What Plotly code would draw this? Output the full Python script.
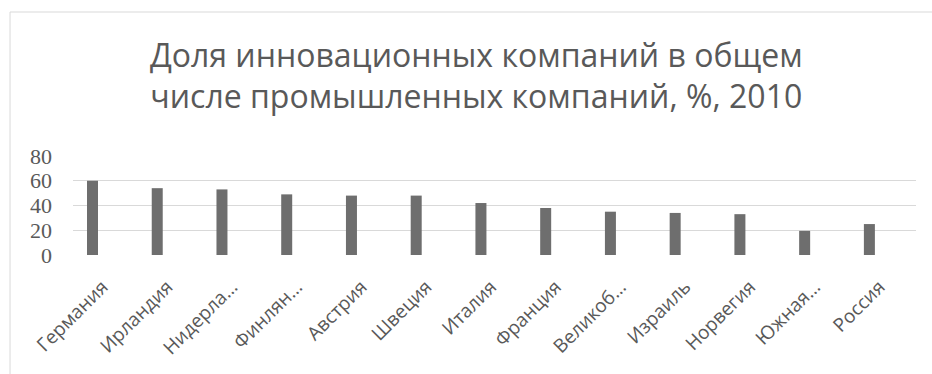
import plotly.graph_objects as go

categories = ["Германия", "Ирландия", "Нидерланды", "Финляндия", "Австрия", "Швеция", "Италия",
              "Франция", "Великобритания", "Израиль", "Норвегия", "Южная Корея", "Россия"]
tick_labels = ["Германия", "Ирландия", "Нидерла…", "Финлян…", "Австрия", "Швеция", "Италия",
               "Франция", "Великоб…", "Израиль", "Норвегия", "Южная…", "Россия"]
values = [60, 54, 53, 49, 48, 48, 42, 38, 35, 34, 33, 19.5, 25]
y_ticks = [0, 20, 40, 60, 80]

title_text = "Доля инновационных компаний в общем<br>числе промышленных компаний, %, 2010"

x_idx = list(range(len(categories)))

fig = go.Figure()
fig.add_trace(go.Bar(
    x=x_idx, y=values, width=0.17,
    marker=dict(color="#6e6e6e", line=dict(width=0)),
    hovertext=categories,
))

fig.update_layout(
    width=932, height=374,
    margin=dict(l=73, r=16, t=156, b=119),
    paper_bgcolor="white", plot_bgcolor="white",
    showlegend=False,
    title=dict(text=title_text, x=0.511, xanchor="center", y=0.822, yanchor="top",
               xref="container", yref="container",
               font=dict(family="Open Sans", size=32, color="#595959")),
    xaxis=dict(range=[-0.301, 12.72], tickmode="array", tickvals=x_idx, ticktext=tick_labels,
               tickangle=-45, showgrid=False, zeroline=False, showline=False, ticks="",
               ticklabelstandoff=16, ticklabelshift=10,
               tickfont=dict(family="Open Sans", size=19, color="#595959")),
    yaxis=dict(range=[0, 80], tickmode="array", tickvals=y_ticks, showgrid=True,
               gridcolor="#d9d9d9", gridwidth=1, zeroline=False, showline=False, ticks="",
               ticklabelstandoff=20,
               tickfont=dict(family="Liberation Serif", size=22, color="#595959")),
    shapes=[dict(type="rect", xref="paper", yref="paper", x0=-0.0747, x1=1.05, y0=-1.4, y1=2.4545,
                 line=dict(color="#d9d9d9", width=1), fillcolor="rgba(0,0,0,0)", layer="below")],
)

fig.write_html("out.html")
